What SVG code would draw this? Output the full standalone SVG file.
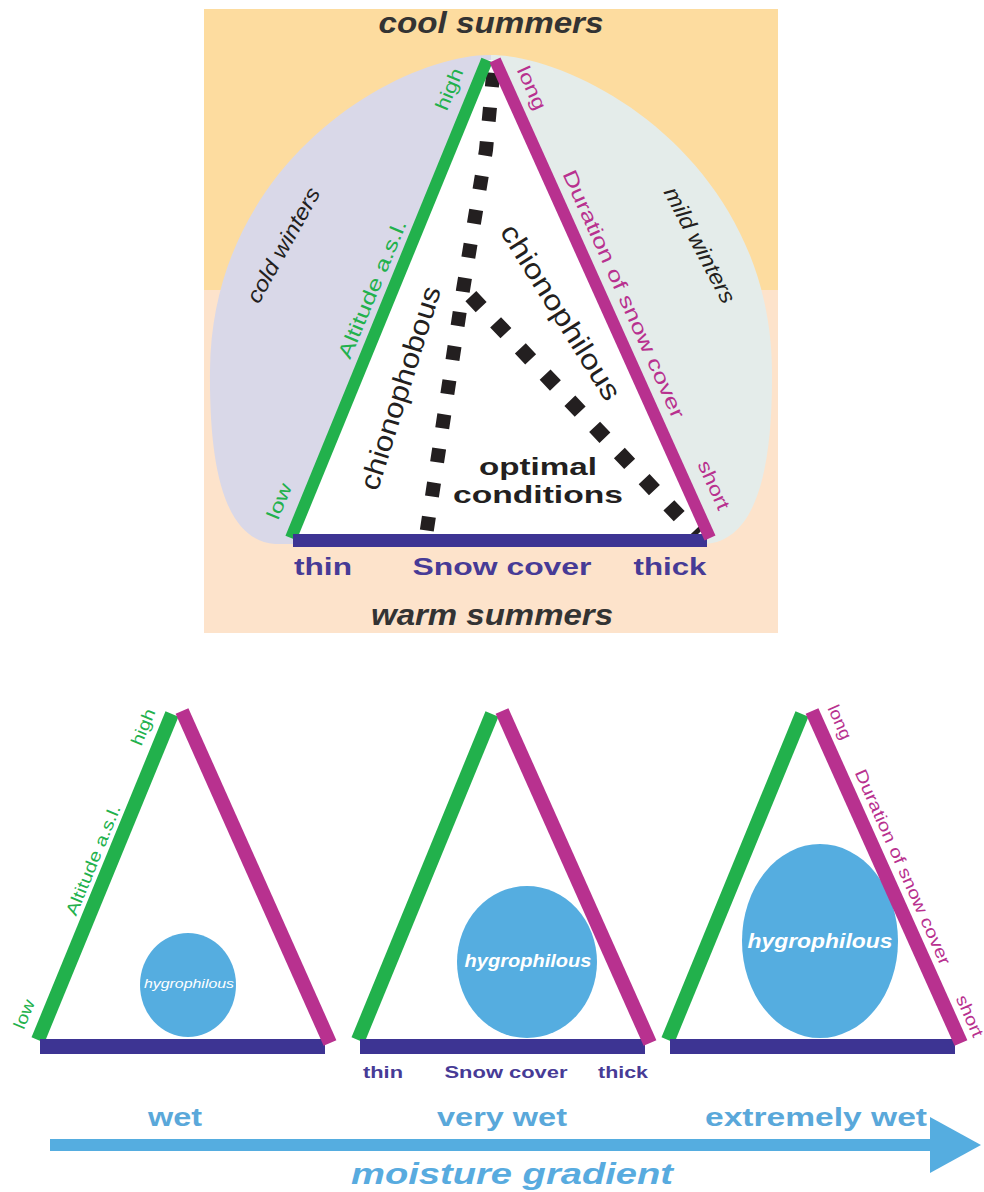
<svg xmlns="http://www.w3.org/2000/svg" width="984" height="1192" viewBox="0 0 984 1192">
<style>
text{font-family:"Liberation Sans",Arial,Helvetica,sans-serif}
.mid{text-anchor:middle}
.gt{fill:#22b14c}
.mt{fill:#b8318f}
.bt{fill:#473b96;font-weight:bold}
.dk{fill:#231f20}
.lbt{fill:#5aa8da;font-weight:bold}
.gl{stroke:#22b14c;fill:none}
.ml{stroke:#b8318f;fill:none}
.bar{fill:#3d3493}
.drop{fill:#55ade0}
.ht{fill:#ffffff;text-anchor:middle}
.dots{stroke:#231f20;fill:none}
</style>
<defs>
<clipPath id="cl"><rect x="0" y="0" width="491" height="700"/></clipPath>
<clipPath id="cr"><rect x="491" y="0" width="500" height="700"/></clipPath>
<path id="egg" d="M490,55 C400,55 212,160 210,370 C209,470 225,540 275,544 L706,544 C756,540 773,470 772,370 C770,160 580,55 490,55 Z"/>
</defs>
<rect width="984" height="1192" fill="#ffffff"/>

<g id="top-diagram">
  <g id="background">
    <rect x="204" y="9" width="574" height="282" fill="#fddc9f"/>
    <rect x="204" y="290" width="574" height="343" fill="#fde3cb"/>
    <use href="#egg" fill="#d9d8e8" clip-path="url(#cl)"/>
    <use href="#egg" fill="#e4ecea" clip-path="url(#cr)"/>
    <polygon points="291,537 487,60 495,60 710,537" fill="#ffffff"/>
  </g>
  <g id="connectors">
    <path class="dots" d="M494,64 L486,150 L463,290 L426,536" stroke-width="14" stroke-dasharray="14 20.5" stroke-dashoffset="25.5"/>
    <path class="dots" d="M465,290 L697,535" stroke-width="15" stroke-dasharray="15 21" stroke-dashoffset="27.5"/>
    <line class="gl" x1="291" y1="538" x2="487" y2="60" stroke-width="12"/>
    <rect class="bar" x="293" y="534" width="414" height="13"/>
    <line class="ml" x1="495" y1="60" x2="710" y2="538" stroke-width="12"/>
  </g>
  <g id="labels-top">
    <text class="mid" x="491" y="33" font-size="29" font-weight="bold" font-style="italic" textLength="225" lengthAdjust="spacingAndGlyphs" fill="#333">cool summers</text>
    <text class="mid" x="492" y="625" font-size="29" font-weight="bold" font-style="italic" textLength="242" lengthAdjust="spacingAndGlyphs" fill="#333">warm summers</text>
    <text class="mid dk" transform="translate(283,245) rotate(-61)" dy="0.35em" font-size="22" font-style="italic" textLength="128" lengthAdjust="spacingAndGlyphs">cold winters</text>
    <text class="mid dk" transform="translate(700,245) rotate(62)" dy="0.35em" font-size="22" font-style="italic" textLength="128" lengthAdjust="spacingAndGlyphs">mild winters</text>
    <text class="mid gt" transform="translate(449,89) rotate(-67.4)" dy="0.35em" font-size="19" textLength="44" lengthAdjust="spacingAndGlyphs">high</text>
    <text class="mid gt" transform="translate(372,289) rotate(-67.4)" dy="0.35em" font-size="20" textLength="148" lengthAdjust="spacingAndGlyphs">Altitude a.s.l.</text>
    <text class="mid gt" transform="translate(279,501) rotate(-67.4)" dy="0.35em" font-size="19" textLength="37" lengthAdjust="spacingAndGlyphs">low</text>
    <text class="mid mt" transform="translate(532,88) rotate(65.8)" dy="0.35em" font-size="19" textLength="46" lengthAdjust="spacingAndGlyphs">long</text>
    <text class="mid mt" transform="translate(624,294) rotate(65.8)" dy="0.35em" font-size="20" textLength="270" lengthAdjust="spacingAndGlyphs">Duration of snow cover</text>
    <text class="mid mt" transform="translate(714,485) rotate(65.8)" dy="0.35em" font-size="19" textLength="52" lengthAdjust="spacingAndGlyphs">short</text>
    <text class="mid dk" transform="translate(400,388) rotate(-72.5)" dy="0.35em" font-size="28" textLength="212" lengthAdjust="spacingAndGlyphs">chionophobous</text>
    <text class="mid dk" transform="translate(561,312) rotate(58)" dy="0.35em" font-size="28" textLength="202" lengthAdjust="spacingAndGlyphs">chionophilous</text>
    <text class="mid dk" x="538" y="475" font-size="24" font-weight="bold" textLength="118" lengthAdjust="spacingAndGlyphs">optimal</text>
    <text class="mid dk" x="538" y="503" font-size="24" font-weight="bold" textLength="170" lengthAdjust="spacingAndGlyphs">conditions</text>
    <text class="mid bt" x="323" y="575" font-size="24" textLength="58" lengthAdjust="spacingAndGlyphs">thin</text>
    <text class="mid bt" x="502" y="575" font-size="24" textLength="179" lengthAdjust="spacingAndGlyphs">Snow cover</text>
    <text class="mid bt" x="670" y="575" font-size="24" textLength="73" lengthAdjust="spacingAndGlyphs">thick</text>
  </g>
</g>

<g id="triangle-wet">
  <ellipse class="drop" cx="188" cy="985" rx="48" ry="52"/>
  <text class="ht" x="189" y="988" font-size="12" font-style="italic" textLength="90" lengthAdjust="spacingAndGlyphs">hygrophilous</text>
  <line class="gl" x1="38" y1="1040" x2="172" y2="714" stroke-width="14"/>
  <rect class="bar" x="40" y="1039" width="285" height="15"/>
  <line class="ml" x1="182" y1="711" x2="330" y2="1043" stroke-width="14"/>
  <text class="mid gt" transform="translate(143,727) rotate(-67.7)" dy="0.35em" font-size="17" textLength="38" lengthAdjust="spacingAndGlyphs">high</text>
  <text class="mid gt" transform="translate(93,860) rotate(-67.7)" dy="0.35em" font-size="17" textLength="118" lengthAdjust="spacingAndGlyphs">Altitude a.s.l.</text>
  <text class="mid gt" transform="translate(24,1014) rotate(-67.7)" dy="0.35em" font-size="17" textLength="30" lengthAdjust="spacingAndGlyphs">low</text>
</g>

<g id="triangle-very-wet">
  <ellipse class="drop" cx="527" cy="962" rx="70" ry="76"/>
  <text class="ht" x="528" y="967" font-size="18" font-weight="bold" font-style="italic" textLength="127" lengthAdjust="spacingAndGlyphs">hygrophilous</text>
  <line class="gl" x1="358" y1="1040" x2="492" y2="714" stroke-width="14"/>
  <rect class="bar" x="360" y="1039" width="285" height="15"/>
  <line class="ml" x1="502" y1="711" x2="650" y2="1043" stroke-width="14"/>
  <text class="mid bt" x="383" y="1078" font-size="17" textLength="40" lengthAdjust="spacingAndGlyphs">thin</text>
  <text class="mid bt" x="506" y="1078" font-size="17" textLength="123" lengthAdjust="spacingAndGlyphs">Snow cover</text>
  <text class="mid bt" x="623" y="1078" font-size="17" textLength="50" lengthAdjust="spacingAndGlyphs">thick</text>
</g>

<g id="triangle-extremely-wet">
  <ellipse class="drop" cx="820" cy="941" rx="78" ry="97"/>
  <text class="ht" x="820" y="948" font-size="20" font-weight="bold" font-style="italic" textLength="145" lengthAdjust="spacingAndGlyphs">hygrophilous</text>
  <line class="gl" x1="668" y1="1040" x2="802" y2="714" stroke-width="14"/>
  <rect class="bar" x="670" y="1039" width="285" height="15"/>
  <line class="ml" x1="812" y1="711" x2="961" y2="1043" stroke-width="14"/>
  <text class="mid mt" transform="translate(840,722) rotate(66)" dy="0.35em" font-size="17" textLength="36" lengthAdjust="spacingAndGlyphs">long</text>
  <text class="mid mt" transform="translate(903,867) rotate(66)" dy="0.35em" font-size="17" textLength="212" lengthAdjust="spacingAndGlyphs">Duration of snow cover</text>
  <text class="mid mt" transform="translate(970,1016) rotate(66)" dy="0.35em" font-size="17" textLength="44" lengthAdjust="spacingAndGlyphs">short</text>
</g>

<g id="moisture-gradient">
  <rect class="drop" x="50" y="1139" width="884" height="12"/>
  <polygon class="drop" points="930,1117 981,1145 930,1173"/>
  <text class="mid lbt" x="175" y="1126" font-size="25" textLength="54" lengthAdjust="spacingAndGlyphs">wet</text>
  <text class="mid lbt" x="502" y="1126" font-size="25" textLength="130" lengthAdjust="spacingAndGlyphs">very wet</text>
  <text class="mid lbt" x="816" y="1126" font-size="25" textLength="222" lengthAdjust="spacingAndGlyphs">extremely wet</text>
  <text class="mid" x="512" y="1184" font-size="30" font-weight="bold" font-style="italic" fill="#58abdf" textLength="322" lengthAdjust="spacingAndGlyphs">moisture gradient</text>
</g>
</svg>
